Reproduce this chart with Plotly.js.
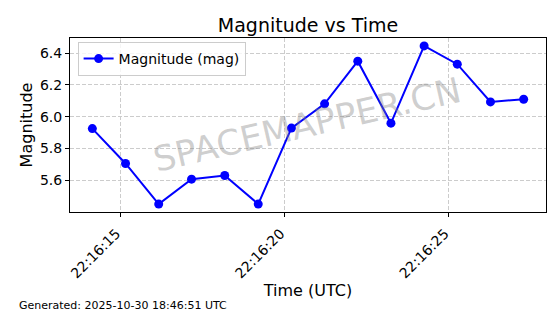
<!DOCTYPE html>
<html>
<head>
<meta charset="utf-8">
<script src="https://cdn.plot.ly/plotly-3.0.1.min.js"></script>
<style>html,body{margin:0;padding:0;background:#fff}#chart{width:560px;height:314px}</style>
</head>
<body>
<div id="chart"></div>
<script>
var times = ["2025-10-30 22:16:14.15","2025-10-30 22:16:15.16","2025-10-30 22:16:16.17","2025-10-30 22:16:17.17","2025-10-30 22:16:18.18","2025-10-30 22:16:19.20","2025-10-30 22:16:20.21","2025-10-30 22:16:21.22","2025-10-30 22:16:22.23","2025-10-30 22:16:23.24","2025-10-30 22:16:24.25","2025-10-30 22:16:25.26","2025-10-30 22:16:26.27","2025-10-30 22:16:27.28"];
var magnitudes = [5.925, 5.705, 5.449, 5.606, 5.629, 5.449, 5.928, 6.081, 6.350, 5.959, 6.446, 6.331, 6.093, 6.110];
var yTicks = [5.6, 5.8, 6.0, 6.2, 6.4];
var xRange = ["2025-10-30 22:16:13.47","2025-10-30 22:16:27.96"];
var yRange = [5.399, 6.496];

var font = "DejaVu Sans, sans-serif";
var trace = {
  x: times, y: magnitudes, type: "scatter", mode: "lines+markers",
  name: "Magnitude (mag)",
  line: {color: "#0000ff", width: 2},
  marker: {color: "#0000ff", size: 9}
};
var layout = {
  width: 560, height: 314,
  margin: {l: 70, r: 14, t: 38, b: 102},
  paper_bgcolor: "#fff", plot_bgcolor: "#fff",
  font: {family: font, color: "#000", size: 14},
  title: {text: "Magnitude vs Time", font: {family: font, size: 19, color: "#000"}, x: 0.5, xanchor: "center", y: 0.918, yanchor: "middle", xref: "paper"},
  xaxis: {
    type: "date", range: xRange,
    tick0: "2025-10-30 22:16:15", dtick: 5000, tickformat: "%H:%M:%S",
    tickangle: -45, ticks: "outside", ticklen: 4, tickcolor: "#000",
    ticklabelshift: -4, ticklabelstandoff: 3,
    showline: true, linecolor: "#000", linewidth: 1, mirror: true,
    showgrid: true, gridcolor: "#cccccc", griddash: "4px,2px", gridwidth: 1,
    zeroline: false,
    tickfont: {family: font, size: 14, color: "#000"},
    title: {text: "Time (UTC)", font: {family: font, size: 16, color: "#000"}, standoff: 3}
  },
  yaxis: {
    range: yRange, tickvals: yTicks, tickformat: ".1f",
    ticks: "outside", ticklen: 4, tickcolor: "#000",
    showline: true, linecolor: "#000", linewidth: 1, mirror: true,
    showgrid: true, gridcolor: "#cccccc", griddash: "4px,2px", gridwidth: 1,
    zeroline: false,
    tickfont: {family: font, size: 14, color: "#000"},
    title: {text: "Magnitude", font: {family: font, size: 16, color: "#000"}, standoff: 3}
  },
  showlegend: true,
  legend: {x: 0.016, y: 0.977, xanchor: "left", yanchor: "top", bgcolor: "rgba(255,255,255,0.8)", bordercolor: "#cccccc", borderwidth: 1, font: {family: font, size: 14, color: "#000"}},
  annotations: [
    {text: "SPACEMAPPER.CN", xref: "paper", yref: "paper", x: 0.497, y: 0.5, showarrow: false, textangle: -13,
     font: {family: font, size: 35, color: "rgba(128,128,128,0.38)"}},
    {text: "Generated: 2025-10-30 18:46:51 UTC", xref: "paper", yref: "paper", x: -0.111, y: -0.535, xanchor: "left", yanchor: "middle", showarrow: false,
     font: {family: font, size: 11, color: "#000"}}
  ]
};
Plotly.newPlot("chart", [trace], layout, {displayModeBar: false, staticPlot: true});
</script>
</body>
</html>
